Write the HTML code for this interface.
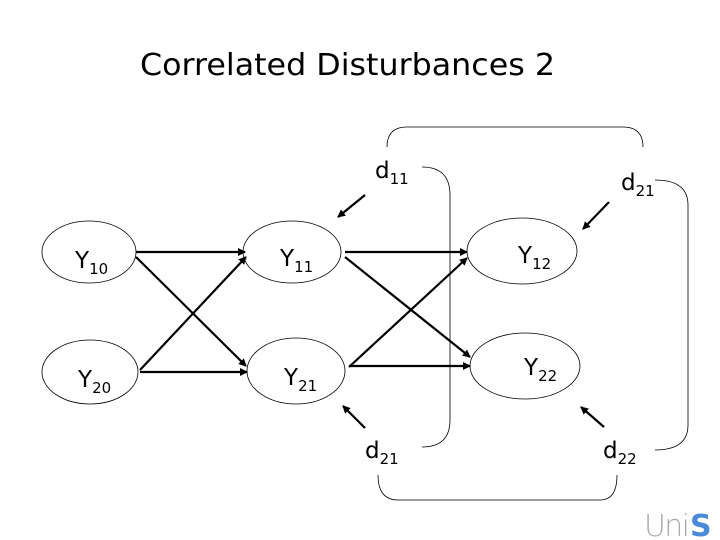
<!DOCTYPE html>
<html><head><style>
body{margin:0;width:720px;height:540px;background:#fff;overflow:hidden}
svg{display:block}
text{font-family:"DejaVu Sans","Liberation Sans",sans-serif;fill:#000}
</style></head><body>
<svg width="720" height="540" viewBox="0 0 720 540">
<defs>
<marker id="a" markerWidth="8" markerHeight="8" refX="7" refY="4" orient="auto" markerUnits="userSpaceOnUse">
<path d="M0,0 L8,4 L0,8 z" fill="#000"/></marker>
</defs>
<text x="140" y="75" font-size="30" textLength="415" lengthAdjust="spacingAndGlyphs">Correlated Disturbances 2</text>
<g fill="none" stroke="#000" stroke-width="0.8">
<ellipse cx="89" cy="252" rx="47" ry="31"/>
<ellipse cx="90" cy="372" rx="48" ry="32"/>
<ellipse cx="292" cy="252" rx="49" ry="31"/>
<ellipse cx="296" cy="371" rx="49" ry="33"/>
<ellipse cx="522" cy="251" rx="55" ry="33"/>
<ellipse cx="525" cy="366" rx="55" ry="33"/>
<path d="M422,167 Q450,167 450,195 L450,420 Q450,447 422,447"/>
<path d="M387,147 Q387,127 407,127 L623,127 Q643,127 643,147"/>
<path d="M655,180 Q688,180 688,205 L688,425 Q688,450 655,450"/>
<path d="M378,475 Q378,500 398,500 L600,500 Q617,500 617,475"/>
</g>
<g stroke="#000" stroke-width="2.2" marker-end="url(#a)">
<line x1="136" y1="252" x2="245" y2="252"/>
<line x1="136" y1="257" x2="246" y2="366"/>
<line x1="140" y1="370" x2="246" y2="257"/>
<line x1="140" y1="372" x2="247" y2="372"/>
<line x1="345" y1="252" x2="467" y2="252"/>
<line x1="345" y1="257" x2="470" y2="357"/>
<line x1="349" y1="367" x2="467" y2="258"/>
<line x1="349" y1="366" x2="470" y2="366"/>
<line x1="365" y1="195" x2="338" y2="217"/>
<line x1="609" y1="202" x2="583" y2="229"/>
<line x1="365" y1="428" x2="343" y2="406"/>
<line x1="604" y1="427" x2="581" y2="407"/>
</g>
<g font-size="23">
<text x="75" y="268">Y<tspan font-size="15" dy="6">10</tspan></text>
<text x="78" y="387">Y<tspan font-size="15" dy="6">20</tspan></text>
<text x="280" y="266">Y<tspan font-size="15" dy="6">11</tspan></text>
<text x="284" y="385">Y<tspan font-size="15" dy="6">21</tspan></text>
<text x="518" y="263">Y<tspan font-size="15" dy="6">12</tspan></text>
<text x="524" y="375">Y<tspan font-size="15" dy="6">22</tspan></text>
<text x="375" y="178">d<tspan font-size="15" dy="6">11</tspan></text>
<text x="621" y="190">d<tspan font-size="15" dy="6">21</tspan></text>
<text x="365" y="458">d<tspan font-size="15" dy="6">21</tspan></text>
<text x="603" y="458">d<tspan font-size="15" dy="6">22</tspan></text>
</g>
<text x="644" y="536" font-size="30" style="fill:#aaa;font-weight:200" textLength="46">Uni</text>
<text x="690" y="536" font-size="30" font-weight="bold" style="fill:#4a8ad8">S</text>
</svg>
</body></html>
